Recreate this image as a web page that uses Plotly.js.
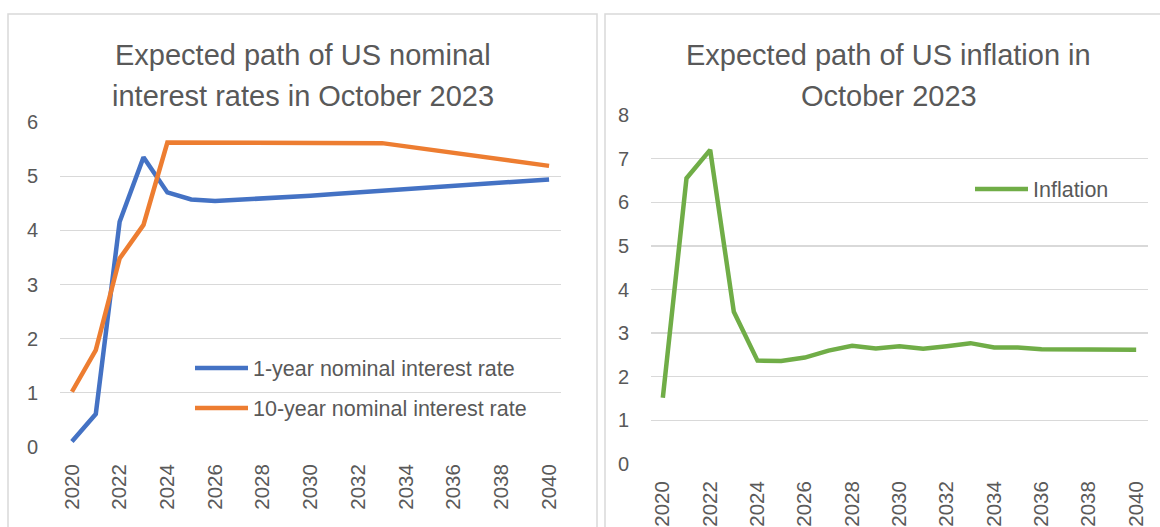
<!DOCTYPE html>
<html>
<head>
<meta charset="utf-8">
<script src="https://cdn.plot.ly/plotly-3.0.1.min.js"></script>
<style>
  html, body { margin: 0; padding: 0; background: #ffffff; }
  #chart { width: 1160px; height: 527px; }
</style>
</head>
<body>
<div id="chart"></div>
<script>
// ---- data ----
const years = [2020, 2021, 2022, 2023, 2024, 2025, 2026, 2027, 2028, 2029, 2030,
               2031, 2032, 2033, 2034, 2035, 2036, 2037, 2038, 2039, 2040];
const oneYearRate = [0.10, 0.61, 4.16, 5.35, 4.70, 4.57, 4.54, 4.56, 4.59, 4.61, 4.64,
                     4.67, 4.70, 4.73, 4.76, 4.79, 4.82, 4.85, 4.88, 4.91, 4.94];
const tenYearRate = [1.02, 1.79, 3.48, 4.10, 5.62, 5.62, 5.63, 5.63, 5.63, 5.63, 5.62,
                     5.62, 5.62, 5.61, 5.55, 5.49, 5.43, 5.37, 5.31, 5.25, 5.19];
const inflation = [1.52, 6.55, 7.20, 3.49, 2.37, 2.36, 2.44, 2.60, 2.71, 2.65, 2.70,
                   2.64, 2.70, 2.77, 2.67, 2.67, 2.63, 2.63, 2.63, 2.62, 2.62];
const xTickLabels = ['2020', '2022', '2024', '2026', '2028', '2030', '2032', '2034', '2036', '2038', '2040'];
const leftYTicks = [0, 1, 2, 3, 4, 5, 6];
const rightYTicks = [0, 1, 2, 3, 4, 5, 6, 7, 8];

// ---- styling ----
const W = 1160, H = 527;
const px = v => v / W;
const py = v => 1 - v / H;
const FONT = 'Liberation Sans, Arial, sans-serif';
const TXT = '#595959';
const GRID = '#d9d9d9';

const traces = [
  { x: years, y: oneYearRate, name: '1-year nominal interest rate', type: 'scatter', mode: 'lines',
    line: { color: '#4472C4', width: 4.5 }, xaxis: 'x', yaxis: 'y', legend: 'legend' },
  { x: years, y: tenYearRate, name: '10-year nominal interest rate', type: 'scatter', mode: 'lines',
    line: { color: '#ED7D31', width: 4.5 }, xaxis: 'x', yaxis: 'y', legend: 'legend2' },
  { x: years, y: inflation, name: 'Inflation', type: 'scatter', mode: 'lines',
    line: { color: '#70AD47', width: 4.5 }, xaxis: 'x2', yaxis: 'y2', legend: 'legend3' }
];

function xAxis(domain, standoff) {
  return {
    domain: domain, range: [2019.5, 2040.5], type: 'linear',
    tickvals: xTickLabels.map(Number), ticktext: xTickLabels,
    tickangle: -90, showgrid: false, zeroline: false, showline: false, ticks: '',
    ticklabelstandoff: standoff,
    tickfont: { family: FONT, size: 20.5, color: TXT }, fixedrange: true
  };
}
function yAxis(domain, range, tickvals) {
  return {
    domain: domain, range: range, tickvals: tickvals,
    showgrid: true, gridcolor: GRID, gridwidth: 1.3, zeroline: false, showline: false, ticks: '',
    ticklabelstandoff: 21,
    tickfont: { family: FONT, size: 20, color: TXT }, fixedrange: true
  };
}
function legendAt(x, y) {
  return {
    x: x, y: y, xanchor: 'left', yanchor: 'middle', bgcolor: 'rgba(0,0,0,0)',
    font: { family: FONT, size: 21.5, color: TXT }, itemwidth: 53, borderwidth: 0
  };
}
function titleLine(text, x, y) {
  return { text: text, x: px(x), y: py(y), xref: 'paper', yref: 'paper',
           xanchor: 'center', yanchor: 'middle', showarrow: false,
           font: { family: FONT, size: 29, color: TXT } };
}

const layout = {
  width: W, height: H,
  margin: { l: 0, r: 0, t: 0, b: 0 },
  paper_bgcolor: '#ffffff', plot_bgcolor: 'rgba(0,0,0,0)',
  showlegend: true,
  xaxis: xAxis([px(60), px(561)], 12),
  yaxis: yAxis([1 - 447 / H, 1 - 122 / H], [0, 6], leftYTicks),
  xaxis2: Object.assign(xAxis([px(651), px(1148)], 12), { anchor: 'y2' }),
  yaxis2: Object.assign(yAxis([1 - 464 / H, 1 - 115 / H], [0, 8], rightYTicks), { anchor: 'x2' }),
  legend: legendAt(px(190), py(368)),
  legend2: legendAt(px(190), py(408)),
  legend3: legendAt(px(970), py(189)),
  annotations: [
    titleLine('Expected path of US nominal', 303, 55),
    titleLine('interest rates in October 2023', 303, 96),
    titleLine('Expected path of US inflation in', 889, 55),
    titleLine('October 2023', 889, 96)
  ],
  shapes: [
    { type: 'rect', xref: 'paper', yref: 'paper', x0: px(8), x1: px(597), y0: -0.1, y1: py(14),
      line: { color: GRID, width: 1.5 }, layer: 'below' },
    { type: 'rect', xref: 'paper', yref: 'paper', x0: px(605), x1: 1.1, y0: -0.1, y1: py(14),
      line: { color: GRID, width: 1.5 }, layer: 'below' }
  ]
};
layout.xaxis2.anchor = 'y2';
layout.xaxis.anchor = 'y';
layout.yaxis.anchor = 'x';

Plotly.newPlot('chart', traces, layout, { staticPlot: true, displayModeBar: false });
</script>
</body>
</html>
